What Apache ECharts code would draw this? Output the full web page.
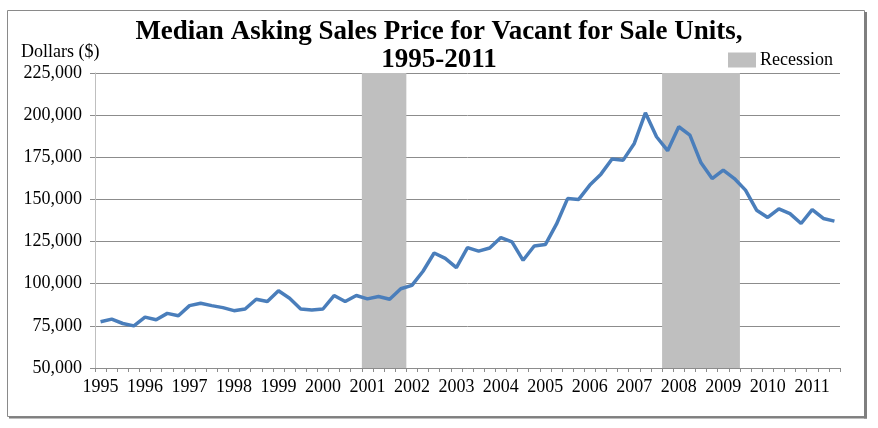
<!DOCTYPE html>
<html>
<head>
<meta charset="utf-8">
<script src="https://cdn.jsdelivr.net/npm/echarts@6/dist/echarts.min.js"></script>
<style>html,body{margin:0;padding:0;background:#fff;}#c{width:878px;height:428px;}</style>
</head>
<body>
<div id="c"></div>
<script>
// Quarterly median asking price, 1995 Q1 .. 2011 Q3
const years = [1995,1996,1997,1998,1999,2000,2001,2002,2003,2004,2005,2006,2007,2008,2009,2010,2011];
const price = [
  77400, 79000, 76400, 75000,   // 1995
  80200, 78600, 82400, 81000,   // 1996
  87000, 88400, 87000, 85800,   // 1997
  84000, 85000, 90800, 89400,   // 1998
  95800, 91400, 85000, 84400,   // 1999
  85000, 93000, 89400, 93000,   // 2000
  91000, 92400, 90800, 97000,   // 2001
  99000, 107400, 118200, 115000,// 2002
  109500, 121400, 119300, 121200,// 2003
  127400, 124800, 113900, 122400,// 2004
  123200, 135300, 150500, 150000,// 2005
  158500, 165000, 174000, 173300,// 2006
  183200, 201400, 187200, 178900,// 2007
  193100, 188200, 171700, 162400,// 2008
  167400, 162400, 155500, 143600,// 2009
  139300, 144400, 141600, 135700,// 2010
  144000, 138700, 137100         // 2011
];
const recessionStart = ['2001 Q1', '2007 Q4'];
const recessionEnd   = ['2001 Q4', '2009 Q2'];
const yTicks = [50000, 75000, 100000, 125000, 150000, 175000, 200000, 225000];

const categories = [];
years.forEach(y => { for (let q = 1; q <= 4; q++) categories.push(y + ' Q' + q); });
categories.length = price.length;

const yMin = yTicks[0], yMax = yTicks[yTicks.length - 1];
const recessionData = recessionStart.map((s, k) => [
  categories.indexOf(s), categories.indexOf(recessionEnd[k]), yMax
]);

const serif = "'Liberation Serif', 'Times New Roman', serif";
const chart = echarts.init(document.getElementById('c'), null, {renderer: 'canvas'});
chart.setOption({
  animation: false,
  backgroundColor: '#ffffff',
  title: [{
    text: 'Median Asking Sales Price for Vacant for Sale Units,\n1995-2011',
    left: 'center',
    top: 13,
    textStyle: {fontFamily: serif, fontWeight: 'bold', fontSize: 27, lineHeight: 28, color: '#000'}
  }, {
    text: 'Dollars ($)',
    left: 16,
    top: 38,
    textStyle: {fontFamily: serif, fontWeight: 'normal', fontSize: 18, color: '#000'}
  }],
  legend: {
    data: ['Recession'],
    left: 723,
    top: 46,
    icon: 'rect',
    itemWidth: 28,
    itemHeight: 15,
    itemGap: 4,
    textStyle: {fontFamily: serif, fontSize: 18, color: '#000', padding: [0, 0, 0, -1]}
  },
  graphic: [
    {type: 'rect', shape: {x: 7.5, y: 10.5, width: 857, height: 406}, style: {fill: 'none', stroke: '#8a8a8a', lineWidth: 1}, z: -1},
    {type: 'line', shape: {x1: 865.5, y1: 12, x2: 865.5, y2: 418.5}, style: {stroke: '#7f7f7f', lineWidth: 3}},
    {type: 'line', shape: {x1: 9, y1: 417.5, x2: 867, y2: 417.5}, style: {stroke: '#7f7f7f', lineWidth: 2}}
  ],
  grid: {left: 95, right: 38, top: 73, bottom: 60, containLabel: false},
  xAxis: {
    type: 'category',
    data: categories,
    boundaryGap: true,
    axisLine: {show: true, lineStyle: {color: '#8c8c8c', width: 1}},
    axisTick: {show: true, interval: 0, length: 4, lineStyle: {color: '#8c8c8c'}},
    axisLabel: {
      interval: 3,
      margin: 10,
      fontFamily: serif, fontSize: 18, color: '#000',
      formatter: v => v.slice(0, 4)
    },
    splitLine: {show: false}
  },
  yAxis: {
    type: 'value',
    min: yMin,
    max: yMax,
    interval: 25000,
    axisLine: {show: true, lineStyle: {color: '#bfbfbf', width: 1}},
    axisTick: {show: true, length: 5, lineStyle: {color: '#8c8c8c'}},
    axisLabel: {
      margin: 13,
      fontFamily: serif, fontSize: 18, color: '#000',
      formatter: v => v.toLocaleString('en-US')
    },
    splitLine: {show: true, lineStyle: {color: '#8c8c8c', width: 1}}
  },
  series: [{
    name: 'Recession',
    type: 'custom',
    data: recessionData,
    encode: {x: [0, 1], y: 2},
    itemStyle: {color: '#bfbfbf'},
    z: 1,
    silent: true,
    renderItem: function (params, api) {
      const bandW = api.size([1, 0])[0];
      const p0 = api.coord([api.value(0), api.value(2)]);
      const p1 = api.coord([api.value(1), yMin]);
      return {
        type: 'rect',
        shape: {x: p0[0] - bandW / 2, y: p0[1], width: p1[0] - p0[0] + bandW, height: p1[1] - p0[1]},
        style: {fill: '#bfbfbf'}
      };
    }
  }, {
    name: 'Median Asking Sales Price',
    type: 'line',
    data: price,
    showSymbol: false,
    smooth: false,
    lineStyle: {color: '#4a7ebb', width: 3.5},
    itemStyle: {color: '#4a7ebb'},
    z: 3
  }]
});
</script>
</body>
</html>
